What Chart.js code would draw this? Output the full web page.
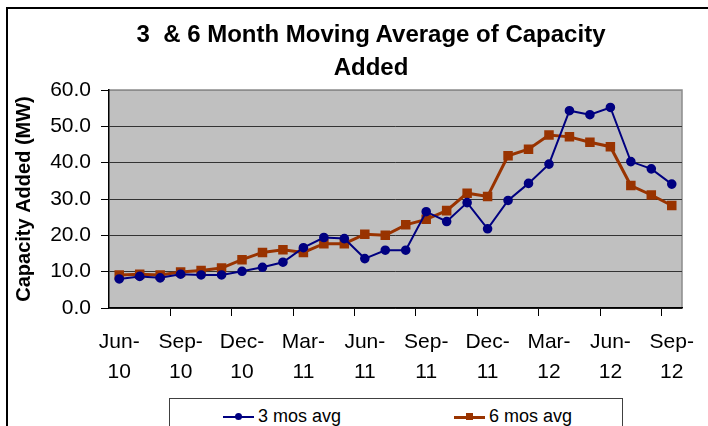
<!DOCTYPE html>
<html>
<head>
<meta charset="utf-8">
<script src="https://cdn.jsdelivr.net/npm/chart.js@4"></script>
<style>
  body { margin: 0; background: #fff; font-family: Arial, 'Liberation Sans', sans-serif; }
  #wrap { position: relative; width: 708px; height: 426px; overflow: hidden; }
  #frame { position: absolute; left: 6px; top: 7px; width: 760px; height: 480px; border: 2px solid #000; }
  #title { position: absolute; left: 100px; width: 542px; top: 17px; text-align: center; font-weight: bold; font-size: 24px; line-height: 33px; color: #000; }
  canvas { position: absolute; left: 0; top: 0; }
  #legend { position: absolute; left: 169px; top: 398px; width: 452px; height: 60px; border: 1px solid #404040; background: #fff; }
  .item { position: absolute; top: 6px; font-size: 18px; line-height: 22px; color: #000; white-space: nowrap; }
  .key { position: relative; display: inline-block; width: 31px; height: 22px; vertical-align: top; margin-right: 4px; }
  .key .ln { position: absolute; left: 0; right: 0; top: 11px; }
  .key .mk { position: absolute; left: 12px; top: 8px; width: 7px; height: 7px; }
</style>
</head>
<body>
<div id="wrap">
  <div id="frame"></div>
  <canvas id="chart" width="708" height="426"></canvas>
  <div id="title">3&nbsp; &amp; 6 Month Moving Average of Capacity<br>Added</div>
  <div id="legend">
    <div class="item" style="left:53px"><span class="key"><span class="ln" style="border-top:2px solid #000080"></span><span class="mk" style="background:#000080;border-radius:50%"></span></span>3 mos avg</div>
    <div class="item" style="left:284px"><span class="key"><span class="ln" style="border-top:3px solid #993300"></span><span class="mk" style="background:#993300"></span></span>6 mos avg</div>
  </div>
</div>
<script>
const months = ['Jun-10','Jul-10','Aug-10','Sep-10','Oct-10','Nov-10','Dec-10','Jan-11','Feb-11','Mar-11',
  'Apr-11','May-11','Jun-11','Jul-11','Aug-11','Sep-11','Oct-11','Nov-11','Dec-11','Jan-12',
  'Feb-12','Mar-12','Apr-12','May-12','Jun-12','Jul-12','Aug-12','Sep-12'];
const avg3 = [8.0, 8.7, 8.3, 9.3, 9.1, 9.1, 10.1, 11.2, 12.6, 16.6,
  19.4, 19.1, 13.6, 15.9, 15.9, 26.5, 23.8, 29.0, 21.8, 29.6,
  34.3, 39.6, 54.3, 53.2, 55.2, 40.3, 38.3, 34.1];
const avg6 = [9.1, 9.3, 9.1, 9.9, 10.3, 11.0, 13.3, 15.3, 16.0, 15.3,
  17.7, 17.7, 20.3, 20.0, 22.9, 24.4, 26.8, 31.6, 30.7, 41.9,
  43.7, 47.6, 47.1, 45.6, 44.4, 33.7, 31.1, 28.2];
const yMin = 0, yMax = 60, yStep = 10;
const labelEvery = 3;

// grey plot area with lighter top/right edge, like the old Excel look
const plotBg = {
  id: 'plotBg',
  beforeDraw(chart) {
    const { ctx, chartArea: a } = chart;
    ctx.save();
    ctx.fillStyle = '#C0C0C0';
    ctx.fillRect(a.left, a.top, a.right - a.left, a.bottom - a.top);
    ctx.strokeStyle = '#8C8C8C';
    ctx.lineWidth = 1.5;
    ctx.beginPath();
    ctx.moveTo(a.left, a.top);
    ctx.lineTo(a.right, a.top);
    ctx.lineTo(a.right, a.bottom);
    ctx.stroke();
    ctx.restore();
  }
};

new Chart(document.getElementById('chart'), {
  type: 'line',
  data: {
    labels: months,
    datasets: [
      { label: '3 mos avg', data: avg3, borderColor: '#000080', backgroundColor: '#000080', borderWidth: 2,
        pointStyle: 'circle', pointRadius: 3.8, pointHoverRadius: 3.8, tension: 0 },
      { label: '6 mos avg', data: avg6, borderColor: '#993300', backgroundColor: '#993300', borderWidth: 3,
        pointStyle: 'rect', pointRadius: 4.6, pointHoverRadius: 4.6, tension: 0 },
    ],
  },
  options: {
    responsive: false,
    animation: false,
    layout: { padding: { top: 90, right: 26, bottom: 28, left: 0 } },
    plugins: { legend: { display: false }, title: { display: false }, tooltip: { enabled: false } },
    scales: {
      x: {
        offset: true,
        grid: {
          offset: true, drawOnChartArea: false, drawTicks: true, tickLength: 8, lineWidth: 1,
          color: c => (c.index !== undefined && c.index % labelEvery === 0 && c.index > 0) ? '#000' : 'rgba(0,0,0,0)',
        },
        border: { display: true, color: '#000', width: 1.5 },
        ticks: {
          autoSkip: false, maxRotation: 0, padding: 11, color: '#000',
          font: { family: 'Arial, "Liberation Sans", sans-serif', size: 21, lineHeight: 30 / 21 },
          callback: (v, i) => {
            if (i % labelEvery !== 0) return '';
            const p = months[i].split('-');
            return [p[0] + '-', p[1]];
          },
        },
      },
      y: {
        min: yMin, max: yMax,
        afterFit: s => { s.width = 109; },
        grid: {
          color: c => c.tick && c.tick.value === yMax ? '#8C8C8C' : '#333',
          tickColor: '#000', tickLength: 8, lineWidth: 1,
        },
        border: { display: true, color: '#000', width: 1.5 },
        ticks: {
          stepSize: yStep, padding: 10, color: '#000',
          font: { family: 'Arial, "Liberation Sans", sans-serif', size: 21 },
          callback: v => v.toFixed(1),
        },
        title: {
          display: true, text: 'Capacity Added (MW)', color: '#000',
          font: { family: 'Arial, "Liberation Sans", sans-serif', size: 20, weight: 'bold' },
          padding: { top: 12, bottom: 0 },
        },
      },
    },
  },
  plugins: [plotBg],
});
</script>
</body>
</html>
